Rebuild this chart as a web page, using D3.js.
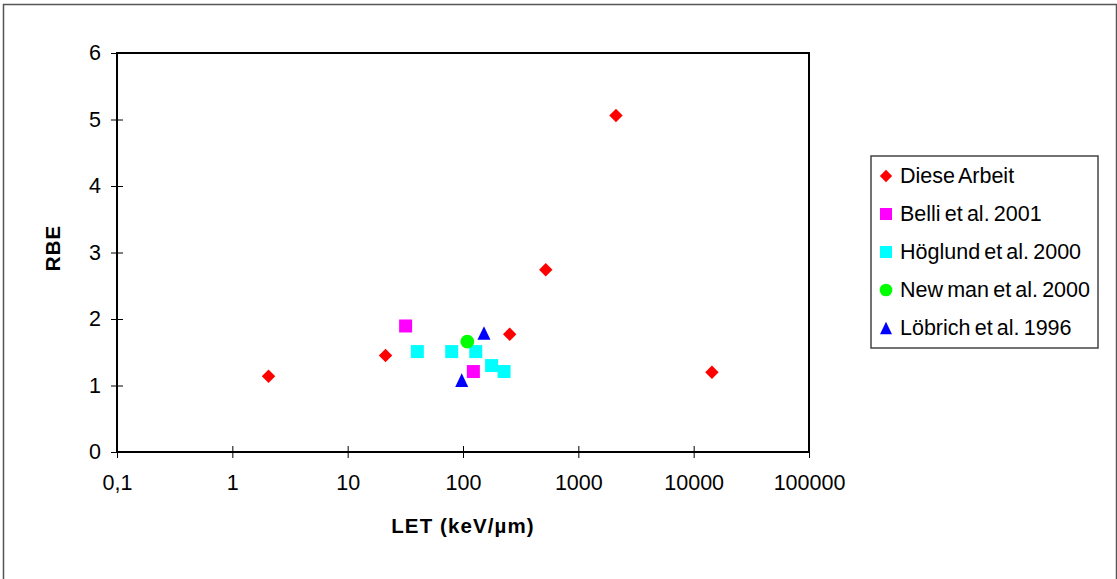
<!DOCTYPE html>
<html>
<head>
<meta charset="utf-8">
<script src="https://cdn.jsdelivr.net/npm/d3@7"></script>
<style>
  body { margin: 0; background: #fff; }
  svg { font-family: Arial, "Liberation Sans", sans-serif; }
</style>
</head>
<body>
<div id="app"></div>
<script>
// values
const dieseLET = [2.06, 21.3, 254, 522, 2120, 14400];
const dieseRBE = [1.14, 1.45, 1.77, 2.74, 5.06, 1.20];
const belliLET = [31.8, 123];
const belliRBE = [1.895, 1.21];
const hoeglundLET = [40.2, 79.8, 129, 177, 227];
const hoeglundRBE = [1.51, 1.51, 1.51, 1.30, 1.21];
const newmanLET = [109];
const newmanRBE = [1.66];
const loebrichLET = [97.5, 152];
const loebrichRBE = [1.08, 1.79];

const seriesNames = ['Diese Arbeit', 'Belli et al. 2001', 'Höglund et al. 2000', 'New man et al. 2000', 'Löbrich et al. 1996'];
const xTicks = [0.1, 1, 10, 100, 1000, 10000, 100000];
const yTicks = [0, 1, 2, 3, 4, 5, 6];

const width = 1117;
const height = 579;
const plot = { left: 117, right: 809, top: 53, bottom: 452 };
const fontSize = 21.5;

// custom triangle, a bit taller than equilateral like the excel marker
const tallTriangle = {
  draw(ctx, size) {
    const w = Math.sqrt(size) * 1.1;
    const h = w * 1.05;
    ctx.moveTo(0, -h / 2);
    ctx.lineTo(w / 2, h / 2);
    ctx.lineTo(-w / 2, h / 2);
    ctx.closePath();
  }
};

const series = [
  { name: seriesNames[0], xs: dieseLET, ys: dieseRBE, color: '#ff0000', type: d3.symbolSquare, size: 90, rot: 45 },
  { name: seriesNames[1], xs: belliLET, ys: belliRBE, color: '#ff00ff', type: d3.symbolSquare, size: 169, rot: 0 },
  { name: seriesNames[2], xs: hoeglundLET, ys: hoeglundRBE, color: '#00ffff', type: d3.symbolSquare, size: 169, rot: 0 },
  { name: seriesNames[3], xs: newmanLET, ys: newmanRBE, color: '#00ff00', type: d3.symbolCircle, size: 150, rot: 0 },
  { name: seriesNames[4], xs: loebrichLET, ys: loebrichRBE, color: '#0000ff', type: tallTriangle, size: 140, rot: 0 },
];

const svg = d3.select('#app').append('svg')
  .attr('width', width)
  .attr('height', height);

// outer chart border
svg.append('rect')
  .attr('x', 3.5).attr('y', 4.5)
  .attr('width', 1113).attr('height', 590)
  .attr('fill', 'none')
  .attr('stroke', '#555')
  .attr('stroke-width', 1.5);

const x = d3.scaleLog()
  .domain([0.1, 100000])
  .range([plot.left, plot.right]);

const y = d3.scaleLinear()
  .domain([0, 6])
  .range([plot.bottom, plot.top]);

const de = d3.formatLocale({ decimal: ',', thousands: '.', grouping: [3], currency: ['', ' €'] });
const fmt = de.format('~g');

// x axis, ticks cross the line
const xAxis = d3.axisBottom(x).tickValues(xTicks).tickFormat(fmt).tickSize(12).tickPadding(17);
const gx = svg.append('g')
  .attr('transform', `translate(0, ${plot.bottom - 6})`)
  .call(xAxis);
gx.select('.domain').remove();
gx.selectAll('line').attr('stroke', '#000').attr('stroke-width', 1);
gx.selectAll('text').attr('font-size', fontSize).attr('fill', '#000');

const yAxis = d3.axisLeft(y).tickValues(yTicks).tickFormat(d3.format('d')).tickSize(12).tickPadding(10);
const gy = svg.append('g')
  .attr('transform', `translate(${plot.left + 6}, 0)`)
  .call(yAxis);
gy.select('.domain').remove();
gy.selectAll('line').attr('stroke', '#000').attr('stroke-width', 1);
gy.selectAll('text').attr('font-size', fontSize).attr('fill', '#000');

// plot frame
svg.append('rect')
  .attr('x', plot.left).attr('y', plot.top)
  .attr('width', plot.right - plot.left)
  .attr('height', plot.bottom - plot.top)
  .attr('fill', 'none')
  .attr('stroke', '#000')
  .attr('stroke-width', 2);

// axis titles
svg.append('text')
  .attr('x', (plot.left + plot.right) / 2)
  .attr('y', 533)
  .attr('text-anchor', 'middle')
  .attr('font-size', 20.5)
  .attr('font-weight', 'bold')
  .attr('letter-spacing', 1.1)
  .text('LET (keV/µm)');

svg.append('text')
  .attr('transform', 'translate(60, 248) rotate(-90)')
  .attr('text-anchor', 'middle')
  .attr('font-size', 20.5)
  .attr('font-weight', 'bold')
  .attr('letter-spacing', 1)
  .text('RBE');

// markers
series.forEach(s => {
  const sym = d3.symbol().type(s.type).size(s.size);
  svg.append('g').selectAll('path')
    .data(d3.zip(s.xs, s.ys))
    .join('path')
    .attr('transform', d => `translate(${x(d[0])}, ${y(d[1])}) rotate(${s.rot})`)
    .attr('d', sym)
    .attr('fill', s.color);
});

// legend
const legend = svg.append('g').attr('transform', 'translate(871, 156)');
legend.append('rect')
  .attr('width', 227).attr('height', 192)
  .attr('fill', '#fff')
  .attr('stroke', '#444')
  .attr('stroke-width', 1.5);

const rows = legend.selectAll('g.row')
  .data(series)
  .join('g')
  .attr('class', 'row')
  .attr('transform', (d, i) => `translate(0, ${19 + i * 38})`);

rows.append('path')
  .attr('transform', d => `translate(15, 1) rotate(${d.rot})`)
  .attr('d', d => d3.symbol().type(d.type).size(d.size * 0.85)())
  .attr('fill', d => d.color);

rows.append('text')
  .attr('x', 29)
  .attr('dy', '0.35em')
  .attr('font-size', fontSize)
  .attr('word-spacing', -1.8)
  .text(d => d.name);
</script>
</body>
</html>
